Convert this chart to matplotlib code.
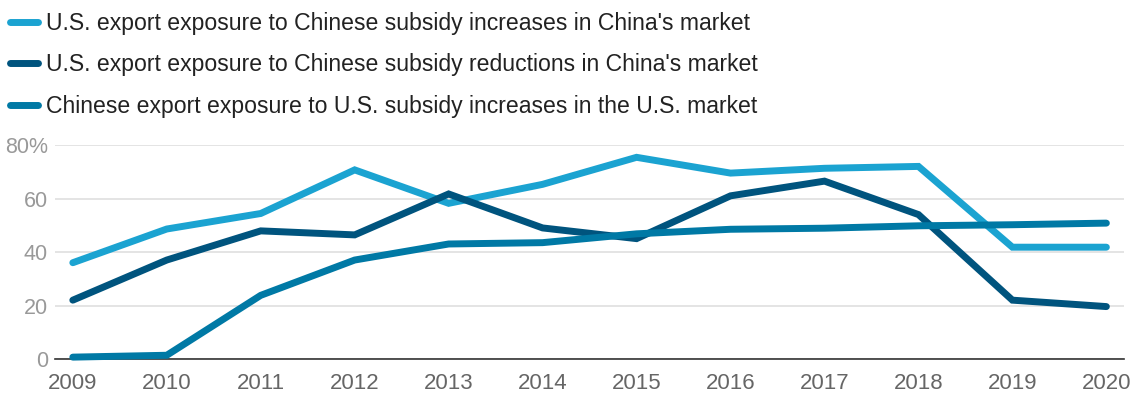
import matplotlib.pyplot as plt

plt.rcParams['font.family'] = ['Liberation Sans', 'DejaVu Sans']

years = [2009, 2010, 2011, 2012, 2013, 2014, 2015, 2016, 2017, 2018, 2019, 2020]
us_increase = [36, 48.6, 54.4, 70.7, 58.2, 65.3, 75.4, 69.5, 71.3, 72, 41.8, 41.8]
us_reduction = [22, 37, 47.9, 46.4, 61.7, 49, 45, 61, 66.5, 54, 22, 19.6]
cn_increase = [0.7, 1.4, 23.8, 37, 43, 43.5, 46.8, 48.5, 48.9, 49.8, 50.2, 50.8]

labels = [
    "U.S. export exposure to Chinese subsidy increases in China's market",
    "U.S. export exposure to Chinese subsidy reductions in China's market",
    "Chinese export exposure to U.S. subsidy increases in the U.S. market",
]
colors = ['#1ba3d1', '#00547e', '#0079a5']
yticks = [0, 20, 40, 60, 80]
ytick_labels = ['0', '20', '40', '60', '80%']

fig = plt.figure(figsize=(11.31, 3.93), dpi=100)
ax = fig.add_axes([0.0486, 0.0865, 0.9454, 0.5445])

for vals, c, lab in zip([us_increase, us_reduction, cn_increase], colors, labels):
    ax.plot(years, vals, color=c, lw=5, solid_capstyle='round',
            solid_joinstyle='miter', label=lab, clip_on=False, zorder=3)

ax.set_xlim(2008.81, 2020.19)
ax.set_ylim(0, 80)
ax.set_xticks(years)
ax.set_xticklabels([str(y) for y in years], fontsize=16, color='#666666')
ax.set_yticks(yticks)
ax.set_yticklabels(ytick_labels, fontsize=15.5, color='#999999')
ax.tick_params(axis='both', length=0)
ax.tick_params(axis='x', pad=10)
ax.tick_params(axis='y', pad=5)

for s in ['top', 'right', 'left']:
    ax.spines[s].set_visible(False)
ax.spines['bottom'].set_color('#333333')
ax.spines['bottom'].set_linewidth(1.2)
ax.spines['bottom'].set_zorder(2)
ax.grid(axis='y', color='#e2e2e2', lw=1.3)
ax.set_axisbelow(True)

leg = fig.legend(loc='upper left', bbox_to_anchor=(0.0, 0.995), frameon=False,
                 fontsize=16.6, handlelength=1.2, handletextpad=0.35,
                 labelspacing=0.8, borderaxespad=0, borderpad=0.43)
for t in leg.get_texts():
    t.set_color('#222222')
for h in leg.legend_handles:
    h.set_linewidth(5)
    h.set_solid_capstyle('round')

fig.savefig('out.png', dpi=100)
